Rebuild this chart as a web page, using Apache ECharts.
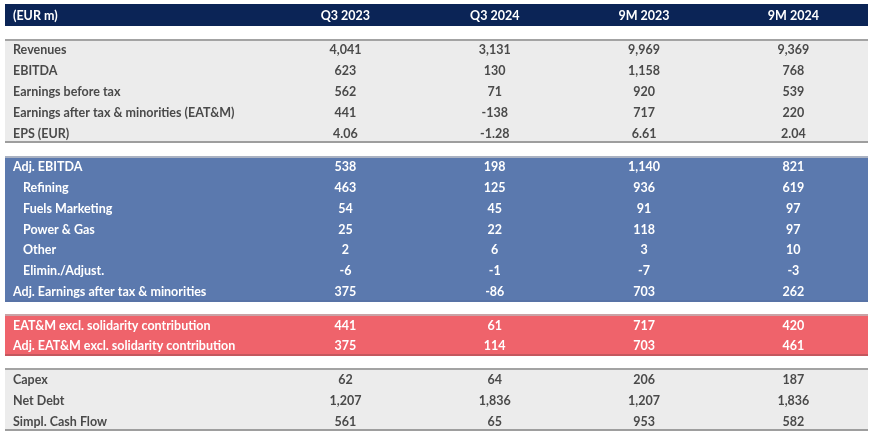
<!DOCTYPE html>
<html>
<head>
<meta charset="utf-8">
<script src="https://cdn.jsdelivr.net/npm/echarts@6/dist/echarts.min.js"></script>
<style>html,body{margin:0;padding:0;background:#fff}#c{width:876px;height:438px}</style>
</head>
<body>
<div id="c"></div>
<script>
// ---- data ----
const headerLabels = ['(EUR m)', 'Q3 2023', 'Q3 2024', '9M 2023', '9M 2024'];
const rowLabels = ['Revenues', 'EBITDA', 'Earnings before tax', 'Earnings after tax & minorities (EAT&M)', 'EPS (EUR)',
  'Adj. EBITDA', 'Refining', 'Fuels Marketing', 'Power & Gas', 'Other', 'Elimin./Adjust.', 'Adj. Earnings after tax & minorities',
  'EAT&M excl. solidarity contribution', 'Adj. EAT&M excl. solidarity contribution',
  'Capex', 'Net Debt', 'Simpl. Cash Flow'];
const rowGroup = [0,0,0,0,0, 1,1,1,1,1,1,1, 2,2, 3,3,3];
const rowIndent = [0,0,0,0,0, 0,1,1,1,1,1,0, 0,0, 0,0,0];
const q3_2023 = [4041, 623, 562, 441, 4.06, 538, 463, 54, 25, 2, -6, 375, 441, 375, 62, 1207, 561];
const q3_2024 = [3131, 130, 71, -138, -1.28, 198, 125, 45, 22, 6, -1, -86, 61, 114, 64, 1836, 65];
const m9_2023 = [9969, 1158, 920, 717, 6.61, 1140, 936, 91, 118, 3, -7, 703, 717, 703, 206, 1207, 953];
const m9_2024 = [9369, 768, 539, 220, 2.04, 821, 619, 97, 97, 10, -3, 262, 420, 461, 187, 1836, 582];
const columns = [q3_2023, q3_2024, m9_2023, m9_2024];

// ---- styles ----
const groupStyle = [
  {fill: '#ececec', text: '#4a4a4a', top: '#a3a3a3', bottom: '#9e9e9e'},
  {fill: '#5b79ae', text: '#ffffff', top: '#aab2c2', bottom: '#5873a6'},
  {fill: '#ef636b', text: '#ffffff', top: '#c9a3a6', bottom: '#c4575e'},
  {fill: '#ececec', text: '#4a4a4a', top: '#a3a3a3', bottom: '#9e9e9e'}
];
const HEADER_H = 1.06, GAP = 0.6;
const FONT = 'Lato';
const FS = 12.5;

// row layout (in row units along the y value axis)
const rowTop = [];
let cur = HEADER_H;
rowLabels.forEach((_, i) => {
  if (i === 0 || rowGroup[i] !== rowGroup[i - 1]) cur += GAP;
  rowTop.push(cur);
  cur += 1;
});
const TOTAL = cur;
const XMIN = -1.28, XMAX = 4.5;

function fmt(v) {
  if (Number.isInteger(v)) {
    const s = Math.abs(v).toString().replace(/\B(?=(\d{3})+(?!\d))/g, ',');
    return (v < 0 ? '-' : '') + s;
  }
  return v.toFixed(2);
}

const chart = echarts.init(document.getElementById('c'), null, {renderer: 'canvas'});
chart.setOption({
  animation: false,
  grid: {left: 5, right: 8, top: 4, bottom: 7},
  xAxis: {type: 'value', min: XMIN, max: XMAX, show: false},
  yAxis: {type: 'value', min: 0, max: TOTAL, inverse: true, show: false},
  series: [
    {
      type: 'custom',
      silent: true,
      data: [[0]],
      renderItem: function (params, api) {
        const p0 = api.coord([XMIN, 0]);
        const p1 = api.coord([XMAX, HEADER_H]);
        const y0 = Math.round(p0[1]), y1 = Math.round(p1[1]);
        const yc = (y0 + y1) / 2 + 0.5;
        const children = [{
          type: 'rect', shape: {x: p0[0], y: y0, width: p1[0] - p0[0], height: y1 - y0},
          style: {fill: '#0b2456', stroke: null, lineWidth: 0}
        }];
        headerLabels.forEach((t, j) => {
          const x = j === 0 ? p0[0] + 8 : api.coord([j, 0])[0];
          children.push({type: 'text', x: x, y: yc, style: {text: t, fill: '#ffffff', font: 'bold ' + FS + 'px ' + FONT,
            align: j === 0 ? 'left' : 'center', verticalAlign: 'middle'}});
        });
        return {type: 'group', children: children};
      }
    },
    {
      type: 'custom',
      silent: true,
      data: rowLabels.map((_, i) => [i]),
      renderItem: function (params, api) {
        const i = api.value(0);
        const g = rowGroup[i];
        const st = groupStyle[g];
        const p0 = api.coord([XMIN, rowTop[i]]);
        const p1 = api.coord([XMAX, rowTop[i] + 1]);
        const y0 = Math.round(p0[1]), y1 = Math.round(p1[1]);
        const yc = (p0[1] + p1[1]) / 2 + 1;
        const w = p1[0] - p0[0];
        const children = [{
          type: 'rect', shape: {x: p0[0], y: y0, width: w, height: y1 - y0},
          style: {fill: st.fill, stroke: null, lineWidth: 0}
        }];
        if (i === 0 || rowGroup[i - 1] !== g) {
          children.push({type: 'rect', shape: {x: p0[0], y: y0, width: w, height: 2}, style: {fill: st.top, stroke: null, lineWidth: 0}});
        }
        if (i === rowLabels.length - 1 || rowGroup[i + 1] !== g) {
          children.push({type: 'rect', shape: {x: p0[0], y: y1 - 2, width: w, height: 2}, style: {fill: st.bottom, stroke: null, lineWidth: 0}});
        }
        children.push({type: 'text', x: p0[0] + 8 + (rowIndent[i] ? 10 : 0), y: yc,
          style: {text: rowLabels[i], fill: st.text, font: 'bold ' + FS + 'px ' + FONT, align: 'left', verticalAlign: 'middle'}});
        columns.forEach((col, j) => {
          const x = api.coord([j + 1, 0])[0];
          children.push({type: 'text', x: x, y: yc,
            style: {text: fmt(col[i]), fill: st.text, font: 'bold ' + FS + 'px ' + FONT, align: 'center', verticalAlign: 'middle'}});
        });
        return {type: 'group', children: children};
      }
    }
  ]
});
</script>
</body>
</html>
